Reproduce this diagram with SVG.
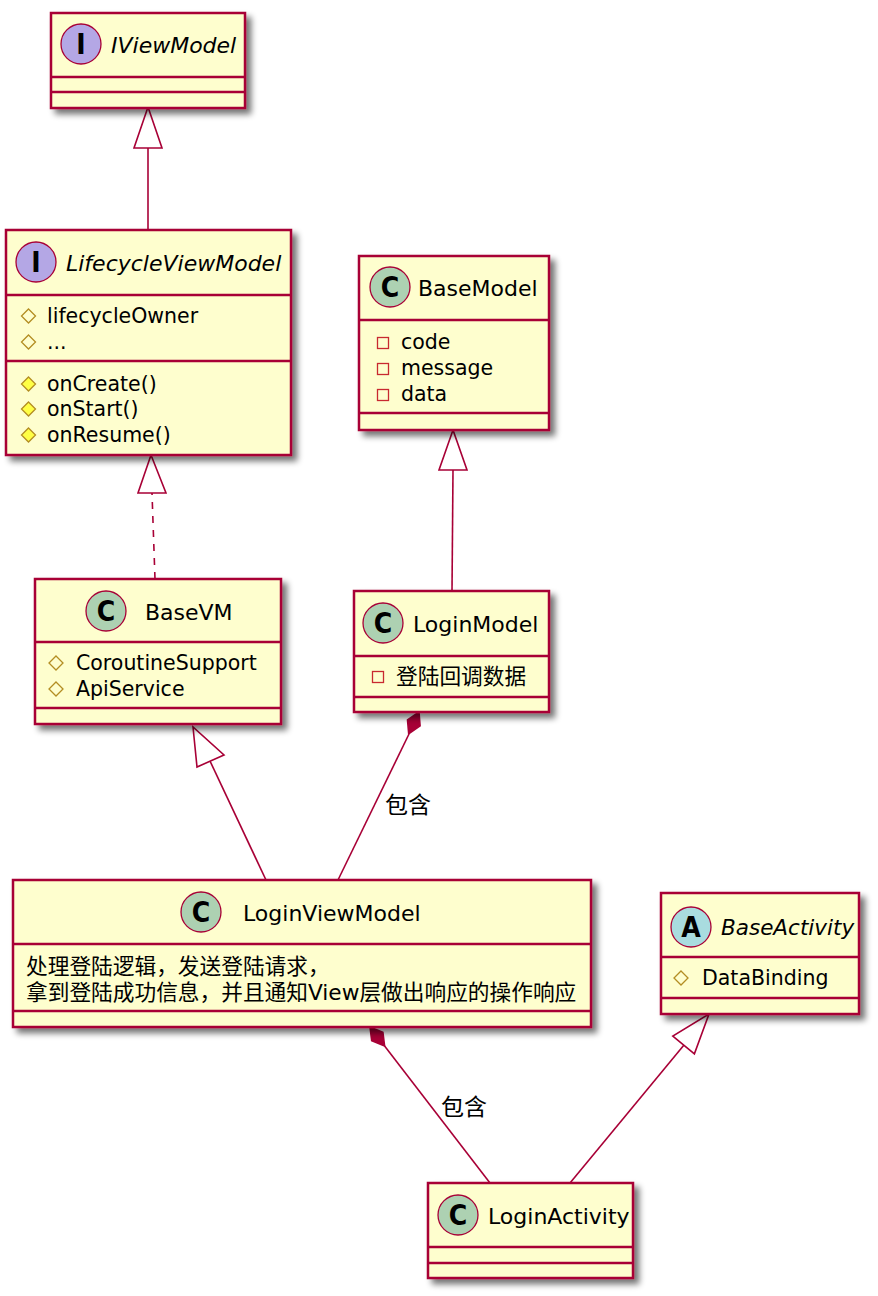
<svg xmlns="http://www.w3.org/2000/svg" width="878" height="1296" viewBox="0 0 878 1296">
<defs>
<filter id="sh" x="-10%" y="-10%" width="130%" height="130%">
<feGaussianBlur in="SourceAlpha" stdDeviation="3"/>
<feOffset dx="5" dy="5" result="b"/>
<feComponentTransfer><feFuncA type="linear" slope="0.55"/></feComponentTransfer>
<feMerge><feMergeNode/><feMergeNode in="SourceGraphic"/></feMerge>
</filter>
</defs>
<style>
.box{fill:#FEFECE;stroke:#A80036;stroke-width:2.5;filter:url(#sh)}
.div{stroke:#A80036;stroke-width:2.5}
.ci{fill:#ADD1B2;stroke:#A80036;stroke-width:1.3}
.ii{fill:#B4A7E5;stroke:#A80036;stroke-width:1.3}
.ai{fill:#A9DCDF;stroke:#A80036;stroke-width:1.3}
.lt{font-family:"DejaVu Sans Condensed","DejaVu Sans",sans-serif;font-weight:bold;font-size:28px;fill:#000;text-anchor:middle}
.nm{font-family:"DejaVu Sans","Noto Sans CJK SC",sans-serif;font-size:22px;fill:#000}
.it{font-style:italic}
.mb{font-family:"DejaVu Sans","Noto Sans CJK SC",sans-serif;font-size:20.5px;fill:#000}
.cj{font-family:"DejaVu Sans","Noto Sans CJK SC",sans-serif;font-size:21.7px;fill:#000}
.pf{fill:none;stroke:#B38D22;stroke-width:1.3}
.pm{fill:#FFFF44;stroke:#B38D22;stroke-width:1.3}
.vf{fill:none;stroke:#C82930;stroke-width:1.3}
.e{fill:none;stroke:#A80036;stroke-width:1.6}
.tri{fill:#FFFFFF;stroke:#A80036;stroke-width:1.6}
.dia{fill:#A80036;stroke:#A80036;stroke-width:1.6}
.lb{font-family:"DejaVu Sans","Noto Sans CJK SC",sans-serif;font-size:23px;fill:#000;text-anchor:middle}
</style>

<g id="edges">
<line class="e" x1="148" y1="230" x2="148" y2="148"/>
<polygon class="tri" points="148,107 134,148 162,148"/>
<line class="e" x1="155" y1="579" x2="152" y2="493" stroke-dasharray="7,7"/>
<polygon class="tri" points="151,455 138,493 166,493"/>
<line class="e" x1="452" y1="591" x2="453" y2="470"/>
<polygon class="tri" points="453,430 439,470 467,470"/>
<line class="e" x1="266" y1="880" x2="210" y2="761"/>
<polygon class="tri" points="193,727 197,767 224,755"/>
<line class="e" x1="338" y1="880" x2="409" y2="734"/>
<polygon class="dia" points="419,712 420.1,725.8 408.7,733.7 407.5,719.8"/>
<text class="lb" x="408" y="813">包含</text>
<line class="e" x1="490" y1="1183" x2="384.6" y2="1046"/>
<polygon class="dia" points="370,1027 382.9,1032.2 384.6,1046 371.7,1040.8"/>
<text class="lb" x="464" y="1115">包含</text>
<line class="e" x1="570" y1="1183" x2="684" y2="1045"/>
<polygon class="tri" points="709,1014 694.4,1053.8 672.8,1036"/>
</g>

<g id="IViewModel">
<rect class="box" x="51" y="13" width="194" height="95"/>
<line class="div" x1="51" y1="77" x2="245" y2="77"/>
<line class="div" x1="51" y1="92" x2="245" y2="92"/>
<circle class="ii" cx="81" cy="44" r="20"/>
<text class="lt" x="81" y="54">I</text>
<text class="nm it" x="111" y="53">IViewModel</text>
</g>

<g id="LifecycleViewModel">
<rect class="box" x="6" y="230" width="285" height="225"/>
<line class="div" x1="6" y1="295" x2="291" y2="295"/>
<line class="div" x1="6" y1="361" x2="291" y2="361"/>
<circle class="ii" cx="36" cy="262" r="20"/>
<text class="lt" x="36" y="272">I</text>
<text class="nm it" x="66" y="271">LifecycleViewModel</text>
<polygon class="pf" points="28.5,309 35.5,316 28.5,323 21.5,316"/>
<text class="mb" x="47" y="323">lifecycleOwner</text>
<polygon class="pf" points="28.5,335 35.5,342 28.5,349 21.5,342"/>
<text class="mb" x="47" y="349">...</text>
<polygon class="pm" points="28.5,377 35.5,384 28.5,391 21.5,384"/>
<text class="mb" x="47" y="391">onCreate()</text>
<polygon class="pm" points="28.5,402 35.5,409 28.5,416 21.5,409"/>
<text class="mb" x="47" y="416">onStart()</text>
<polygon class="pm" points="28.5,428 35.5,435 28.5,442 21.5,435"/>
<text class="mb" x="47" y="442">onResume()</text>
</g>

<g id="BaseModel">
<rect class="box" x="359" y="256" width="190" height="174"/>
<line class="div" x1="359" y1="320" x2="549" y2="320"/>
<line class="div" x1="359" y1="413" x2="549" y2="413"/>
<circle class="ci" cx="390" cy="287" r="20"/>
<text class="lt" x="390" y="297">C</text>
<text class="nm" x="418" y="296">BaseModel</text>
<rect class="vf" x="377.5" y="337.5" width="11" height="11"/>
<text class="mb" x="401" y="349">code</text>
<rect class="vf" x="377.5" y="363.5" width="11" height="11"/>
<text class="mb" x="401" y="375">message</text>
<rect class="vf" x="377.5" y="389.5" width="11" height="11"/>
<text class="mb" x="401" y="401">data</text>
</g>

<g id="BaseVM">
<rect class="box" x="35" y="579" width="246" height="145"/>
<line class="div" x1="35" y1="642" x2="281" y2="642"/>
<line class="div" x1="35" y1="708" x2="281" y2="708"/>
<circle class="ci" cx="106" cy="611" r="20"/>
<text class="lt" x="106" y="621">C</text>
<text class="nm" x="145" y="620">BaseVM</text>
<polygon class="pf" points="56,656 63,663 56,670 49,663"/>
<text class="mb" x="76" y="670">CoroutineSupport</text>
<polygon class="pf" points="56,682 63,689 56,696 49,689"/>
<text class="mb" x="76" y="696">ApiService</text>
</g>

<g id="LoginModel">
<rect class="box" x="354" y="591" width="195" height="121"/>
<line class="div" x1="354" y1="656" x2="549" y2="656"/>
<line class="div" x1="354" y1="697" x2="549" y2="697"/>
<circle class="ci" cx="383" cy="623" r="20"/>
<text class="lt" x="383" y="633">C</text>
<text class="nm" x="413" y="632">LoginModel</text>
<rect class="vf" x="372.5" y="671.5" width="11" height="11"/>
<text class="cj" x="396" y="684">登陆回调数据</text>
</g>

<g id="LoginViewModel">
<rect class="box" x="13" y="880" width="578" height="147"/>
<line class="div" x1="13" y1="944" x2="591" y2="944"/>
<line class="div" x1="13" y1="1011" x2="591" y2="1011"/>
<circle class="ci" cx="201" cy="912" r="20"/>
<text class="lt" x="201" y="922">C</text>
<text class="nm" x="243" y="921">LoginViewModel</text>
<text class="cj" x="26" y="974">处理登陆逻辑，发送登陆请求，</text>
<text class="cj" x="26" y="1000">拿到登陆成功信息，并且通知View层做出响应的操作响应</text>
</g>

<g id="BaseActivity">
<rect class="box" x="661" y="893" width="198" height="121"/>
<line class="div" x1="661" y1="957" x2="859" y2="957"/>
<line class="div" x1="661" y1="998" x2="859" y2="998"/>
<circle class="ai" cx="691" cy="927" r="20"/>
<text class="lt" x="691" y="937">A</text>
<text class="nm it" x="721" y="935" style="font-size:21.5px">BaseActivity</text>
<polygon class="pf" points="681,971 688,978 681,985 674,978"/>
<text class="mb" x="702" y="985">DataBinding</text>
</g>

<g id="LoginActivity">
<rect class="box" x="428" y="1183" width="205" height="95"/>
<line class="div" x1="428" y1="1247" x2="633" y2="1247"/>
<line class="div" x1="428" y1="1263" x2="633" y2="1263"/>
<circle class="ci" cx="458" cy="1215" r="20"/>
<text class="lt" x="458" y="1225">C</text>
<text class="nm" x="488" y="1224">LoginActivity</text>
</g>
</svg>
